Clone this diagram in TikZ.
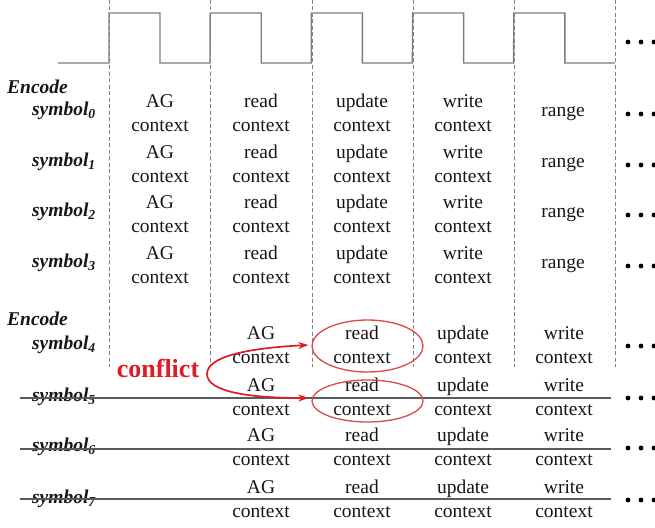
\documentclass[tikz,border=0pt]{standalone}
\usepackage{fontspec}
\setmainfont{Liberation Serif}
\usetikzlibrary{shapes.geometric,arrows.meta}
\definecolor{ink}{RGB}{22,22,22}
\definecolor{clk}{RGB}{125,125,125}
\definecolor{gridc}{RGB}{130,130,130}
\definecolor{trackc}{RGB}{90,90,90}
\definecolor{hotred}{RGB}{222,28,36}
\definecolor{ringred}{RGB}{218,72,72}
\begin{document}
\begin{tikzpicture}[x=1pt,y=-1pt,
  txt/.style={font=\fontsize{19.5}{24}\selectfont, text=ink, align=center, inner sep=0pt},
  lbl/.style={font=\fontsize{19.5}{24}\selectfont\bfseries\itshape, text=ink, inner sep=0pt},
  gridline/.style={draw=gridc, line width=0.9pt, dash pattern=on 4pt off 2.5pt},
  clock/.style={draw=clk, line width=1.4pt},
  track/.style={draw=trackc, line width=1.4pt},
  ring/.style={ellipse, draw=ringred, line width=1.3pt, inner sep=0pt},
  hotarrow/.style={draw=hotred, line width=1.7pt, -{Stealth[length=10pt,width=7pt]}},
  more/.style={fill=black}
]
\useasboundingbox (0,0) rectangle (655,527);

% clock signal
\draw[clock] (58,63) -- (109,63)
  \foreach \k in {0,...,4} { -- ({109+101.2*\k},13) -- ({160+101.2*\k},13) -- ({160+101.2*\k},63) -- ({210+101.2*\k},63) };

% stage boundaries
\foreach \x in {109,210,312,413,514,615}
  \draw[gridline] (\x,0) -- (\x,367);

% continuation dots
\newcommand{\moredots}[1]{%
  \foreach \dx in {628,641,654} \fill[more] (\dx,#1) circle (2.4pt);}
\moredots{42}

% first encoding pass
\node[lbl, anchor=west] (enc0) at (7,87) {Encode};
\foreach \r/\y in {0/113,1/164,2/214,3/265} {
  \node[lbl, anchor=east] (s\r) at (96,\y-2) {symbol\textsubscript{\r}};
  \node[txt] (ag\r) at (160,\y) {AG\\context};
  \node[txt] (rd\r) at (261,\y) {read\\context};
  \node[txt] (up\r) at (362,\y) {update\\context};
  \node[txt] (wr\r) at (463,\y) {write\\context};
  \node[txt] (rg\r) at (563,\y+1) {range};
  \moredots{\y+1}
}

% second encoding pass
\node[lbl, anchor=west] (enc1) at (7,319) {Encode};
\foreach \r/\y in {4/345,5/397,6/447,7/499} {
  \node[lbl, anchor=east] (s\r) at (96,\y) {symbol\textsubscript{\r}};
  \node[txt] (ag\r) at (261,\y) {AG\\context};
  \node[txt] (rd\r) at (362,\y) {read\\context};
  \node[txt] (up\r) at (463,\y) {update\\context};
  \node[txt] (wr\r) at (564,\y) {write\\context};
  \moredots{\y+1}
}

% time lines of the stalled symbols
\foreach \y in {398,449,499}
  \draw[track] (20,\y) -- (611,\y);

% conflict marks
\node[ring, minimum width=111pt, minimum height=52pt] (c4) at (367.5,346) {};
\node[ring, minimum width=111pt, minimum height=42pt] (c5) at (367.5,401) {};
\node[font=\fontsize{26}{30}\selectfont\bfseries, text=hotred, inner sep=0pt] (cf) at (158,368) {conflict};
\coordinate (fork) at (207,374);
\draw[hotarrow] (fork) .. controls (207,356) and (250,348) .. ([xshift=-3pt,yshift=1pt]c4.west);
\draw[hotarrow] (fork) .. controls (207,392) and (250,398) .. ([xshift=-3pt,yshift=3pt]c5.west);
\end{tikzpicture}
\end{document}
